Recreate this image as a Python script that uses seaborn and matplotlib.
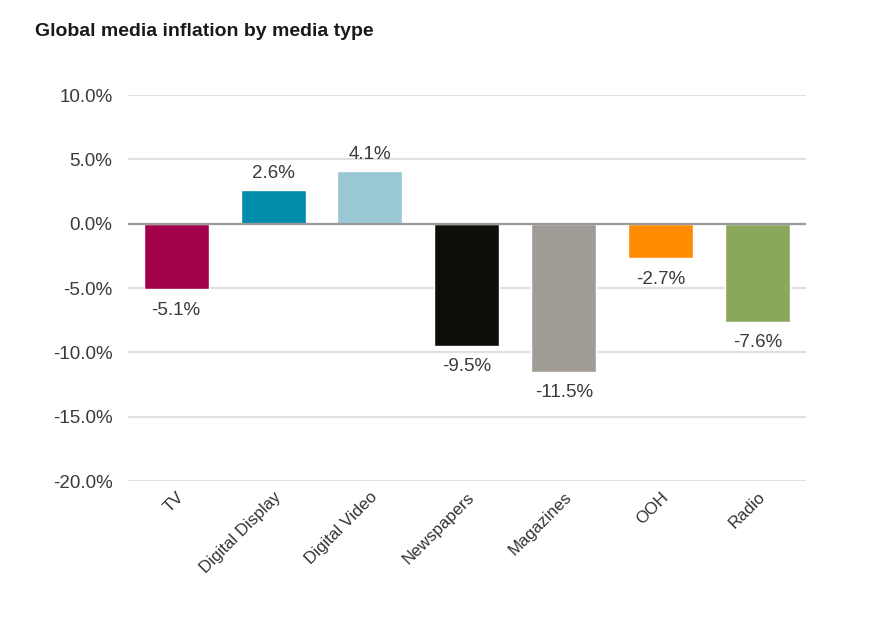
import matplotlib
matplotlib.use("Agg")
import matplotlib.pyplot as plt
import seaborn as sns
import pandas as pd

categories = ["TV", "Digital Display", "Digital Video", "Newspapers", "Magazines", "OOH", "Radio"]
values = [-5.1, 2.6, 4.1, -9.5, -11.5, -2.7, -7.6]
colors = ["#A1004A", "#008CAA", "#99C7D3", "#0D0D09", "#A19B96", "#FF8C00", "#8AA85C"]
yticks = [10, 5, 0, -5, -10, -15, -20]
title = "Global media inflation by media type"

sns.set_theme(style="white")
plt.rcParams['font.family'] = ['Liberation Sans', 'DejaVu Sans']

df = pd.DataFrame({"cat": categories, "val": values})

fig = plt.figure(figsize=(8.75, 6.38), dpi=100)
ax = fig.add_axes([0.146, 0.246, 0.775, 0.605])

for t in yticks:
    ax.axhline(t, color="#E0E0E0", lw=1.6, zorder=0)

sns.barplot(data=df, x="cat", y="val", hue="cat", palette=dict(zip(categories, colors)),
            legend=False, width=0.67, ax=ax, zorder=2, saturation=1)
ax.axhline(0, color="#9A9A9A", lw=1.6, zorder=3)

ax.set_ylim(-20, 10)
ax.set_xlim(-0.5, len(categories) - 0.5)
ax.set_yticks(yticks)
ax.set_yticklabels([f"{t:.1f}%" for t in yticks], fontsize=13.5, color="#3A3A3A")
ax.set_xticks(range(len(categories)))
ax.set_xticklabels(categories, rotation=45, ha="right", rotation_mode="anchor",
                   fontsize=12.2, color="#333333")
ax.tick_params(axis="y", length=0, pad=11)
ax.tick_params(axis="x", length=0, pad=6)
ax.set_xlabel("")
ax.set_ylabel("")
for s in ax.spines.values():
    s.set_visible(False)

for i, v in enumerate(values):
    if v >= 0:
        ax.annotate(f"{v:.1f}%", (i, v), xytext=(0, 6), textcoords="offset points",
                    ha="center", va="bottom", fontsize=13.5, color="#3A3A3A")
    else:
        ax.annotate(f"{v:.1f}%", (i, v), xytext=(0, -9), textcoords="offset points",
                    ha="center", va="top", fontsize=13.5, color="#3A3A3A")

fig.text(35 / 875, 1 - 32 / 638, title, fontsize=14, fontweight="bold", color="#1A1A1A",
         ha="left", va="center")

fig.savefig("out.png", dpi=100, facecolor="white")
